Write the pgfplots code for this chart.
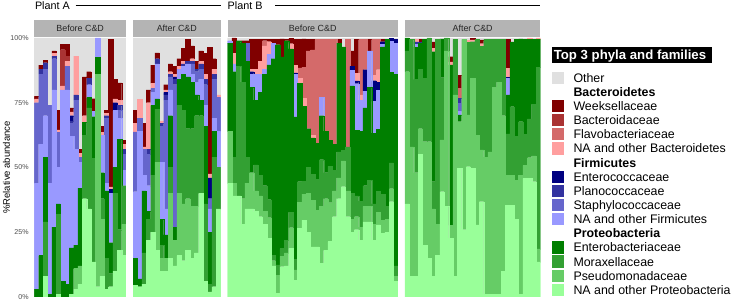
\documentclass[border=0pt]{standalone}
\usepackage{pgfplots}
\pgfplotsset{compat=1.18}
\usepackage{pgfplotstable}
\usepackage{fontspec}
\setmainfont{Liberation Sans}

\definecolor{cO}{HTML}{E0E0E0}
\definecolor{cB1}{HTML}{800000}
\definecolor{cB2}{HTML}{AA3333}
\definecolor{cB3}{HTML}{D46A6A}
\definecolor{cB4}{HTML}{FF9F9F}
\definecolor{cF1}{HTML}{000080}
\definecolor{cF2}{HTML}{3333A0}
\definecolor{cF3}{HTML}{6666CC}
\definecolor{cF4}{HTML}{9999FF}
\definecolor{cP1}{HTML}{007F00}
\definecolor{cP2}{HTML}{33A033}
\definecolor{cP3}{HTML}{66CC66}
\definecolor{cP4}{HTML}{99FF99}
\definecolor{cStrip}{HTML}{B4B4B4}
\definecolor{cTick}{HTML}{4D4D4D}

% columns: bottom -> top of each stack
\pgfplotstableread{
P4 P3 P2 P1 F4 F3 F2 F1 B4 B3 B2 B1 O
0 0 0 3 41 31 0 0 1.5 0 0 1 22.5
0 0 0 16 43 27 2 0 0 0 0 1.5 10.5
8 0 21 25 16 18 2.5 0 0 0 0 1 8.5
0 0 0 1 43 30 0 0 0 0 0 0 26
0 0 0 27 53 12 1 0 1 0 0 1 5
1 0 31 4 14 13.5 0 0 1 0 0 7.5 28
0 0 0 6 74 0 0 0 1.5 0 14 2 2.5
0 0 0 5 75 9 0 0 2 0 2 4.5 2.5
1 0 0 18 43 5 1 2 1.5 0 0 1.5 27
3 8 0 9 37 19 2 0 15 0 0 0 7
5 7 0 30 10 2 0 0 1.5 0 0 1.5 43
38 0 24.5 5 0 0 0 0 2.5 0 0 15 15
34 0 39 4 5 0 2.5 0 0 0 0 2.5 13
13.6 0 40 16 2 0 0 0 0 0 0 5 23.4
4 82 0 6.6 7.4 0 0 0 0 0 0 0 0
8 22 8 10 14.5 0 0 0 1 0 0 2.5 34
3 0 12 26 3 25 1 0 1 0 0 1 28
4 0 5 12 19 0 0 1.5 1 0 0 57 0.5
10 0 30 10 22 0 0 3 1.5 0 0 7.5 16
18 0 8 35 8 3 2 0 2 0 0 6.7 17.3
16 12 15 0 6 6 2 0 2 0 0 1.6 39.4
}\tabA

\pgfplotstableread{
P4 P3 P2 P1 F4 F3 F2 F1 B4 B3 B2 B1 O
4.6 0 0 10.3 25.8 23.1 0 0 3.2 0 0 5.2 27.8
4 0 0 3 57 5 0 0 7.4 0 0 0 23.6
5 0 12 24 6 10 0 0 1 0 0 9 33
22 0 8 3 10 12 2 0 18 0 0 5 20
25 0 22 27 5 1.5 0 0 2 0 0 7 10.5
18 34 20.5 4 13.5 0 2 0 0 0 0 2.3 5.7
10 5 5 10 22 14 1 0 1 0 0 0 32
10 5 0 9 10 42 2 1 1 0 0 2 18
15 25 10 20 10 5 1 0 1 0 0 3 10
12 10 0 5 0 55 2 1 1 0 0 3 11
16 24 34 10 4 0 0 0 1 0 0 3 8
14 22 36 14 3 0 1 0 1 0 0 5 4
18 20 27 20 5 0 1 0 0 0 0 8.5 0.5
15 20 30 18 3 4 1 0 1 0 0 5 3
17 18 35 8 5 4 1 0 0 0 0 3 9
40 0 30 6 8 4 2 0 1 0 0 4 5
6 0 30 30 8 8 2 0 2 0 0 8 6
2 0 3 20 9 4 0 8 1.5 0 0 49 3.5
4 0 50 10 5 15 2 0 2 0 0 4 8
34 0 16 0 14 13 0 0 1 0 0 0 22
}\tabB

\pgfplotstableread{
P4 P3 P2 P1 F4 F3 F2 F1 B4 B3 B2 B1 O
44 20 0 34 1 0 0 0 0 0 0 0 1
39 5 10 33 3 0 0 0 4 0 0 6 0
39 0 50 10 0 0 0 0 0 0 0 0 1
28 10 45 15 0 0 0 0 0 0 0 1 1
34 10 10 37 0 7 0 0 0 0 0 1 1
34 14 0 33 5 0 0 1 1 0 0 11.5 0.5
33 8 10 25 10 0 0 0 2 0 0 11.5 0.5
31 8 8 32 7 0 0 0 5 0 0 8.5 0.5
28 5 10 43 2 0 0 0 9 2 0 0.5 0.5
22.6 8 7 52 4 0 0 0 5 0 0 1 0.4
12 2 2 76 6 0 0 0 0 0 0 1.5 0.5
1.4 7 4 85 0 0 0 0 0 0 0 2 0.6
11.7 4 3 74 0 0 0 0 0 0 0 7 0.3
12 5 5 77 0 0 0 0 0 0 0 0.5 0.5
18.8 8 6 63 0 0 0 0 2 0 0 2 0.2
6.5 4 4 55 16.5 0 0 0.5 3 0 0 10 0.5
26.5 10 8 38 0 0 0 0 2 4 0 11 0.5
29.7 10 5 29 0 0 0 0 3 12 0 11 0.3
25 15 10 15 0 0 0 0 0 30 0 4.5 0.5
19.4 18 10 14 0 0 0 0 1 33 0 4 0.6
19.4 14 12 14 0 0 0 0 0 40 0 0 0.6
13 22 18 17 7 0 0 0 0 22.5 0 0 0.5
18 20 10 16 0 0 0 0 0 35.5 0 0 0.5
21.4 15 14 10 0 0 0 0 0 39 0 0 0.6
31 10 8 10 0 0 0 0 0 40.5 0 0 0.5
38 8 10 42 0 0 0 0 0 0 0 1.5 0.5
42.6 10 4 40 0 0 0 0 0 0 0 0 3.4
31 10 17 0 0 0 0 0 0 41.5 0 0 0.5
25 5 10 41.5 6 0 0 1.5 0 0 0 6 5
26 5 8 25.4 18 0 0 1 3 0 0 13 0.6
22 5 10 27 12 0 0 0 2 21.5 0 0 0.5
29 6 8 30 6.5 0 0 8.3 0 11.7 0 0 0.5
29 6 10 36 14 0 0 0 0 0 0 4.5 0.5
22 6 8 27.3 12.2 0 0 8 2 14 0 0 0.5
27.8 5 8 24 15 0 0 3 5 11.7 0 0 0.5
24.6 5 10 57 1 0 0 1 0 0 0 1 0.4
25 5 5 64.5 0 0 0 0 0 0 0 0 0.5
36.8 5 10 35 12 0 0 1 0 0 0 0 0.2
6 2 4 74 12 0 0 1.5 0 0 0 0 0.5
}\tabC

\pgfplotstableread{
P4 P3 P2 P1 F4 F3 F2 F1 B4 B3 B2 B1 O
36 51 8 5 0 0 0 0 0 0 0 0 0
8 50 41.5 0 0 0 0 0 0 0 0 0 0.5
8 40 36 12.5 1 0 1 0 1 0 0 0 0.5
55 10 23 10 0 0 0.5 0 0 0 0 1 0.5
20 40 24.5 15 0 0 0 0 0 0 0 0 0.5
15 45 40 0 0 0 0 0 0 0 0 0 0
8 26 10.5 50.2 0 0 0 0 1.3 0 0 2.5 1.5
16 12 71.5 0 0 0 0 0 0 0 0 0 0.5
40.7 20 24 15 0 0 0 0 0 0 0 0 0.3
35 60 5 0 0 0 0 0 0 0 0 0 0
22.7 5 0 61.9 0 0 0 0 1.2 0 0 2 7.2
8 70 21.5 0 0 0 0 0 0 0 0 0 0.5
49.7 18 0 2.6 1.3 3.1 2 0 0 3.9 0 5.1 14.3
26 73.5 0 0 0 0 0 0 0 0 0 0 0.5
50.3 20 28 0 0 0 0 0 1 0 0 0 0.7
49.7 34.7 14.2 0 0 0 0 0 0.7 0 0 0.5 0.2
27.8 34.7 37 0 0 0 0 0 0 0 0 0 0.5
36.8 20 40 0 0 0 0 0 1 0 0 1.5 0.7
1 53 45.5 0 0 0 0 0 0 0 0 0 0.5
1 55 43.5 0 0 0 0 0 0 0 0 0 0.5
1 80 18.5 0 0 0 0 0 0 0 0 0 0.5
1 82 16.5 0 0 0 0 0 0 0 0 0 0.5
10 60 29.5 0 0 0 0 0 0 0 0 0 0.5
35.5 11.5 16 15 6.4 0 0 0.6 3.3 0 0 11.2 0.5
35.5 11.5 26.5 25 0 0 0 0 0 0 0 0 1.5
30 15 17 37.5 0 0 0 0 0 0 0 0 0.5
1 46 20.7 32 0 0 0 0 0 0 0 0 0.3
45.8 5 12 36.7 0 0 0 0 0 0 0 0 0.5
45.8 8 15 30.7 0 0 0 0 0.5 0 0 0 0
44.5 10 20 25 0 0 0 0 0 0 0 0 0.5
13.6 5 70 11 0 0 0 0 0.4 0 0 0 0
}\tabD

\newcommand{\bp}[3]{\addplot[fill=#2, draw=#2, line width=0.15pt] table[x expr=\coordindex+1, y=#3]{#1};}
\newcommand{\stackbars}[1]{%
\bp{#1}{cP4}{P4}\bp{#1}{cP3}{P3}\bp{#1}{cP2}{P2}\bp{#1}{cP1}{P1}%
\bp{#1}{cF4}{F4}\bp{#1}{cF3}{F3}\bp{#1}{cF2}{F2}\bp{#1}{cF1}{F1}%
\bp{#1}{cB4}{B4}\bp{#1}{cB3}{B3}\bp{#1}{cB2}{B2}\bp{#1}{cB1}{B1}%
\bp{#1}{cO}{O}}

\pgfplotsset{panel/.style={anchor=south west, scale only axis, height=259pt,
  ymin=0, ymax=100, xmin=0.5, ybar stacked, bar width=1, bar shift=0pt,
  axis background/.style={fill=cO}, axis line style={draw=none},
  xtick=\empty, ytick=\empty, major tick length=0pt, enlargelimits=false}}

\newcommand{\lkey}[3]{% row, color, text
  \fill[#2] (551.7pt,{(300-77.7-14.15*#1+6.15)*1pt}) rectangle (564.3pt,{(300-77.7-14.15*#1-6.15)*1pt});
  \node[anchor=base west, inner sep=0pt, font=\fontsize{12.4}{14}\selectfont] at (573.3pt,{(300-77.7-14.15*#1-4.5)*1pt}) {#3};}
\newcommand{\lhead}[2]{%
  \node[anchor=base west, inner sep=0pt, font=\fontsize{12.4}{14}\selectfont\bfseries] at (573.3pt,{(300-77.7-14.15*#1-4.5)*1pt}) {#2};}

\begin{document}
\begin{tikzpicture}
\path[use as bounding box] (0pt,0pt) rectangle (734pt,300pt);

\begin{axis}[panel, at={(34.3pt,3pt)}, width=91.7pt, xmax=21.5,
  ytick={0,25,50,75,100}, yticklabels={0\%,25\%,50\%,75\%,100\%},
  yticklabel style={font=\fontsize{7.1}{8}\selectfont, text=cTick, inner sep=0pt, anchor=east, xshift=-5.5pt}]
\stackbars{\tabA}
\end{axis}
\begin{axis}[panel, at={(133.1pt,3pt)}, width=87.4pt, xmax=20.5]
\stackbars{\tabB}
\end{axis}
\begin{axis}[panel, at={(227.5pt,3pt)}, width=170.4pt, xmax=39.5]
\stackbars{\tabC}
\end{axis}
\begin{axis}[panel, at={(404.9pt,3pt)}, width=135.5pt, xmax=31.5]
\stackbars{\tabD}
\end{axis}

% strips
\fill[cStrip] (34.3pt,262.5pt) rectangle (126pt,280pt);
\fill[cStrip] (133.1pt,262.5pt) rectangle (220.5pt,280pt);
\fill[cStrip] (227.5pt,262.5pt) rectangle (397.9pt,280pt);
\fill[cStrip] (404.9pt,262.5pt) rectangle (540.4pt,280pt);
\begin{scope}[every node/.style={anchor=base, inner sep=0pt, text=black!85, font=\fontsize{8.9}{10}\selectfont}]
\node at (80.15pt,268pt) {Before C\&D};
\node at (176.8pt,268pt) {After C\&D};
\node at (312.7pt,268pt) {Before C\&D};
\node at (472.65pt,268pt) {After C\&D};
\end{scope}

% plant labels
\node[anchor=base west, inner sep=0pt, font=\fontsize{10.8}{12}\selectfont] at (34.8pt,290.7pt) {Plant A};
\draw[line width=0.9pt] (75.7pt,295pt) -- (220.7pt,295pt);
\node[anchor=base west, inner sep=0pt, font=\fontsize{10.8}{12}\selectfont] at (227.5pt,290.7pt) {Plant B};
\draw[line width=0.9pt] (275pt,295pt) -- (540pt,295pt);

% y label
\node[rotate=90, inner sep=0pt, font=\fontsize{9.5}{11}\selectfont] at (6.5pt,132.5pt) {\%Relative abundance};

% legend
\fill[black] (551.7pt,236.7pt) rectangle (711.7pt,253.3pt);
\node[anchor=base, inner sep=0pt, text=white, font=\fontsize{13.2}{15}\selectfont\bfseries] at (630pt,240.3pt) {Top 3 phyla and families};
\lkey{0}{cO}{Other}
\lhead{1}{Bacteroidetes}
\lkey{2}{cB1}{Weeksellaceae}
\lkey{3}{cB2}{Bacteroidaceae}
\lkey{4}{cB3}{Flavobacteriaceae}
\lkey{5}{cB4}{NA and other Bacteroidetes}
\lhead{6}{Firmicutes}
\lkey{7}{cF1}{Enterococcaceae}
\lkey{8}{cF2}{Planococcaceae}
\lkey{9}{cF3}{Staphylococcaceae}
\lkey{10}{cF4}{NA and other Firmicutes}
\lhead{11}{Proteobacteria}
\lkey{12}{cP1}{Enterobacteriaceae}
\lkey{13}{cP2}{Moraxellaceae}
\lkey{14}{cP3}{Pseudomonadaceae}
\lkey{15}{cP4}{NA and other Proteobacteria}
\end{tikzpicture}
\end{document}
